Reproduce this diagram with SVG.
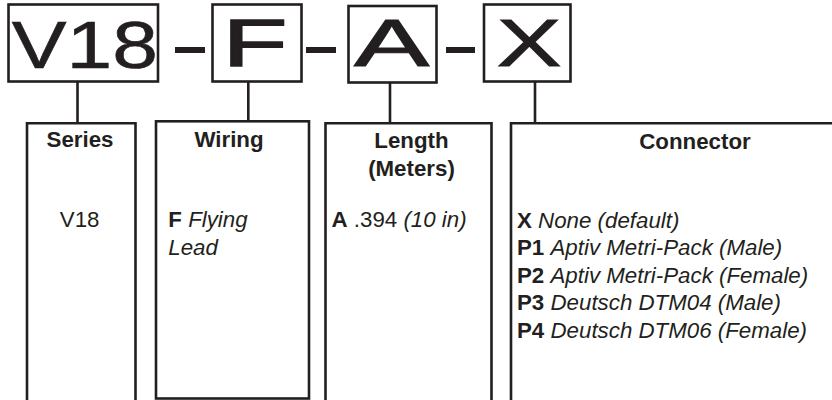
<svg xmlns="http://www.w3.org/2000/svg" width="832" height="400" viewBox="0 0 832 400">
<style>
.bx{fill:none;stroke:#231f20;stroke-width:2.6}
.ln{stroke:#231f20;stroke-width:2.6;fill:none}
.big{font-family:"Liberation Sans",Arial,sans-serif;font-size:66px;fill:#231f20;stroke:#231f20;stroke-width:0.6;text-anchor:middle}
.t{font-family:"Liberation Sans",Arial,sans-serif;font-size:22.3px;fill:#231f20}
.h{font-weight:bold;text-anchor:middle}
.b{font-weight:bold}
.i{font-style:italic}
.c{text-anchor:middle}
.dash{fill:#231f20}
</style>
<rect width="832" height="400" fill="#ffffff"/>
<g id="code-V18">
<rect class="bx" x="8.5" y="4.5" width="149.5" height="77"/>
<text class="big" transform="translate(84.8,67.8) scale(1.245,1)">V18</text>
</g>
<g id="code-F">
<rect class="bx" x="212.5" y="4.5" width="89" height="77"/>
<text class="big" style="stroke-width:1.6" transform="translate(255,66.2) scale(1.6,1)">F</text>
</g>
<g id="code-A">
<rect class="bx" x="348.5" y="6" width="88" height="76.5"/>
<text class="big" style="stroke-width:1" transform="translate(391.7,65.6) scale(1.71,1)">A</text>
</g>
<g id="code-X">
<rect class="bx" x="484" y="4.5" width="86.5" height="77"/>
<text class="big" style="stroke-width:1" transform="translate(529.2,66.3) scale(1.47,1)">X</text>
</g>
<g id="dashes">
<rect class="dash" x="175" y="47" width="30" height="6"/>
<rect class="dash" x="306" y="47" width="30" height="6"/>
<rect class="dash" x="446" y="47" width="29" height="6"/>
</g>
<g id="connectors">
<line class="ln" x1="77.5" y1="81.5" x2="77.5" y2="123.3"/>
<line class="ln" x1="248.3" y1="81.5" x2="248.3" y2="121.3"/>
<line class="ln" x1="390" y1="82.5" x2="390" y2="123.3"/>
<line class="ln" x1="535" y1="81.5" x2="535" y2="123.3"/>
</g>
<g id="series">
<path class="bx" d="M27,404 V123.3 H135.5 V404"/>
<text class="t h" x="80" y="146.5">Series</text>
<text class="t c" x="79.7" y="227.3">V18</text>
</g>
<g id="wiring">
<rect class="bx" x="156" y="121.3" width="153" height="277.2"/>
<text class="t h" x="229" y="146.5">Wiring</text>
<text class="t" x="168.3" y="227.3"><tspan class="b">F</tspan> <tspan class="i">Flying</tspan></text>
<text class="t i" x="168.3" y="254.5">Lead</text>
</g>
<g id="length">
<path class="bx" d="M325.5,404 V123.3 H491.5 V404"/>
<text class="t h" x="411.5" y="148.3">Length</text>
<text class="t h" x="411.5" y="175.7">(Meters)</text>
<text class="t" x="331.5" y="227.3"><tspan class="b">A</tspan> .394 <tspan class="i">(10 in)</tspan></text>
</g>
<g id="connector">
<path class="bx" d="M511,404 V123.3 H840"/>
<text class="t h" x="695" y="149">Connector</text>
<text class="t" x="517" y="227.5"><tspan class="b">X</tspan> <tspan class="i">None (default)</tspan></text>
<text class="t" x="517" y="255"><tspan class="b">P1</tspan> <tspan class="i">Aptiv Metri-Pack (Male)</tspan></text>
<text class="t" x="517" y="282.5"><tspan class="b">P2</tspan> <tspan class="i">Aptiv Metri-Pack (Female)</tspan></text>
<text class="t" x="517" y="310"><tspan class="b">P3</tspan> <tspan class="i">Deutsch DTM04 (Male)</tspan></text>
<text class="t" x="517" y="337.5"><tspan class="b">P4</tspan> <tspan class="i">Deutsch DTM06 (Female)</tspan></text>
</g>
</svg>
